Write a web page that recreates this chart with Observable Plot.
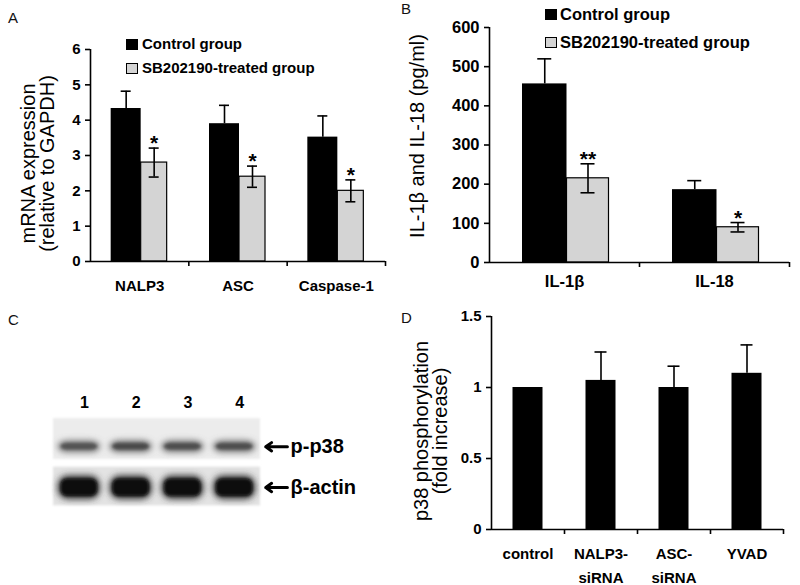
<!DOCTYPE html>
<html>
<head>
<meta charset="utf-8">
<script src="https://cdn.jsdelivr.net/npm/d3@7"></script>
<script src="https://cdn.jsdelivr.net/npm/@observablehq/plot@0.6"></script>
<style>
  body { margin: 0; background: #fff; font-family: "Liberation Sans", Arial, Helvetica, sans-serif; }
  #wrap { position: relative; width: 800px; height: 585px; overflow: hidden; background: #fff; }
  .panel { position: absolute; }
  .panel svg { overflow: visible; display: block; }
  .plab { position: absolute; font-size: 15px; line-height: 15px; color: #111; }
  .legtxt { position: absolute; font-weight: bold; white-space: nowrap; color: #000; }
  .sw { position: absolute; box-sizing: border-box; }
</style>
</head>
<body>
<div id="wrap">
  <div class="plab" style="left:8px;top:10px">A</div>
  <div class="plab" style="left:401px;top:1px">B</div>
  <div class="plab" style="left:8px;top:312px">C</div>
  <div class="plab" style="left:401px;top:310px">D</div>
  <div class="panel" id="pA" style="left:0;top:0"></div>
  <div class="panel" id="pB" style="left:400px;top:0"></div>
  <div class="panel" id="pC" style="left:0;top:300px"></div>
  <div class="panel" id="pD" style="left:400px;top:300px"></div>
  <div id="legends"></div>
</div>
<script>
// ---------- data ----------
const seriesNames = ["Control group", "SB202190-treated group"];

const catsA = ["NALP3", "ASC", "Caspase-1"];
const ctrlA = [4.33, 3.9, 3.52];
const ctrlSeA = [0.49, 0.52, 0.6];
const trtA = [2.8, 2.4, 2.0];
const trtSeA = [0.41, 0.3, 0.31];
const sigA = ["*", "*", "*"];
const ticksA = [0, 1, 2, 3, 4, 5, 6];
const titleA = "mRNA expression\n(relative to GAPDH)";

const catsB = ["IL-1β", "IL-18"];
const ctrlB = [456, 186];
const ctrlSeB = [64, 23];
const trtB = [215, 90];
const trtSeB = [37, 12];
const sigB = ["**", "*"];
const ticksB = [0, 100, 200, 300, 400, 500, 600];
const titleB = "IL-1β and IL-18 (pg/ml)";

const catsD = ["control", "NALP3-siRNA", "ASC-siRNA", "YVAD"];
const valD = [1.0, 1.05, 1.0, 1.1];
const seD = [0, 0.2, 0.15, 0.2];
const ticksD = [0, 0.5, 1, 1.5];
const titleD = "p38 phosphorylation\n(fold increase)";

const lanes = [1, 2, 3, 4];
const blotRows = ["p-p38", "β-actin"];
const pp38Density = [0.74, 0.77, 0.76, 0.76];
const actinDensity = [0.97, 0.97, 0.96, 0.97];

// ---------- helpers ----------
const FONT = '"Liberation Sans", Arial, Helvetica, sans-serif';
const baseStyle = { fontFamily: FONT, fontWeight: "bold", color: "#000", background: "transparent", overflow: "visible" };
const fmt = d => String(d);

function yTitle(title, dx, dy) {
  return Plot.text([title], { text: d => d, frameAnchor: "left", rotate: -90, dx, dy,
    textAnchor: "middle", lineAnchor: "middle", fontSize: 20, fontWeight: "normal", lineHeight: 0.93 });
}

function grouped(cfg) {
  const { cats, ctrl, ctrlSe, trt, trtSe, sig, yMax, yTicks, W, H, mL, mR, mT, mB,
          cL, split, tR, cap, tickFont, xPad, title, tDx, tDy } = cfg;
  const rows = cats.map((c, i) => ({
    cat: c, ctrl: ctrl[i], ctrlHi: ctrl[i] + ctrlSe[i],
    trt: trt[i], trtLo: trt[i] - trtSe[i], trtHi: trt[i] + trtSe[i], sig: sig[i]
  }));
  const innerW = W - mL - mR, innerH = H - mT - mB;
  const w = innerW / cats.length;
  const cc = (cL + split) / 2, tc = (split + tR) / 2;
  const tk = 5 * yMax / innerH;
  const lw = 1.6;
  return Plot.plot({
    width: W, height: H, marginLeft: mL, marginRight: mR, marginTop: mT, marginBottom: mB,
    style: { ...baseStyle, fontSize: tickFont + "px" },
    x: { domain: cats, padding: 0, round: false },
    y: { domain: [0, yMax] },
    marks: [
      Plot.barY(rows, { x: "cat", y: "ctrl", fill: "#000", insetLeft: w / 2 + cL, insetRight: w / 2 - split }),
      Plot.barY(rows, { x: "cat", y: "trt", fill: "#d4d4d4", stroke: "#000", strokeWidth: 1.2,
                        insetLeft: w / 2 + split, insetRight: w / 2 - tR }),
      Plot.ruleX(rows, { x: "cat", y1: "ctrl", y2: "ctrlHi", dx: cc, stroke: "#000", strokeWidth: lw }),
      Plot.tickY(rows, { x: "cat", y: "ctrlHi", dx: cc, insetLeft: w / 2 - cap / 2, insetRight: w / 2 - cap / 2, stroke: "#000", strokeWidth: lw }),
      Plot.ruleX(rows, { x: "cat", y1: "trtLo", y2: "trtHi", dx: tc, stroke: "#000", strokeWidth: lw }),
      Plot.tickY(rows, { x: "cat", y: "trtHi", dx: tc, insetLeft: w / 2 - cap / 2, insetRight: w / 2 - cap / 2, stroke: "#000", strokeWidth: lw }),
      Plot.tickY(rows, { x: "cat", y: "trtLo", dx: tc, insetLeft: w / 2 - cap / 2, insetRight: w / 2 - cap / 2, stroke: "#000", strokeWidth: lw }),
      Plot.text(rows, { x: "cat", y: "trtHi", dx: tc, dy: 2, text: "sig", fontSize: 21, lineAnchor: "bottom", fontWeight: "bold" }),
      Plot.ruleY([0], { stroke: "#000", strokeWidth: lw }),
      Plot.ruleX([cats[0]], { dx: -w / 2, y1: 0, y2: yMax, stroke: "#000", strokeWidth: lw }),
      Plot.ruleX(cats, { dx: w / 2, y1: 0, y2: -tk, stroke: "#000", strokeWidth: lw }),
      Plot.axisY({ ticks: yTicks, tickFormat: fmt, tickSize: 5, tickPadding: 5, label: null, strokeWidth: lw, fontSize: tickFont }),
      Plot.axisX({ tickSize: 0, tickPadding: xPad, label: null, fontSize: tickFont }),
      yTitle(title, tDx, tDy)
    ]
  });
}

// ---------- Panel A ----------
document.getElementById("pA").append(grouped({
  cats: catsA, ctrl: ctrlA, ctrlSe: ctrlSeA, trt: trtA, trtSe: trtSeA, sig: sigA,
  yMax: 6, yTicks: ticksA, W: 400, H: 300, mL: 90, mR: 15, mT: 49, mB: 39,
  cL: -28.5, split: 1.5, tR: 27.5, cap: 10, tickFont: 15, xPad: 19,
  title: titleA, tDx: -52, tDy: 8
}));

// ---------- Panel B ----------
document.getElementById("pB").append(grouped({
  cats: catsB, ctrl: ctrlB, ctrlSe: ctrlSeB, trt: trtB, trtSe: trtSeB, sig: sigB,
  yMax: 600, yTicks: ticksB, W: 400, H: 300, mL: 89, mR: 11, mT: 27, mB: 38,
  cL: -42, split: 2.5, tR: 44.5, cap: 14, tickFont: 16.5, xPad: 13,
  title: titleB, tDx: -71, tDy: -9
}));

// ---------- Panel D ----------
(function () {
  const rows = catsD.map((c, i) => ({ cat: c, v: valD[i], hi: valD[i] + seD[i], se: seD[i] }));
  const W = 400, H = 285, mL = 91, mR = 17, mT = 16, mB = 56;
  const w = (W - mL - mR) / catsD.length;
  const bw = 30, cap = 12, lw = 1.6;
  const tk = 5 * 1.5 / (H - mT - mB);
  const withErr = rows.filter(d => d.se > 0);
  const svg = Plot.plot({
    width: W, height: H, marginLeft: mL, marginRight: mR, marginTop: mT, marginBottom: mB,
    style: { ...baseStyle, fontSize: "15px" },
    x: { domain: catsD, padding: 0, round: false },
    y: { domain: [0, 1.5] },
    marks: [
      Plot.barY(rows, { x: "cat", y: "v", fill: "#000", insetLeft: (w - bw) / 2, insetRight: (w - bw) / 2 }),
      Plot.ruleX(withErr, { x: "cat", y1: "v", y2: "hi", stroke: "#000", strokeWidth: lw }),
      Plot.tickY(withErr, { x: "cat", y: "hi", insetLeft: (w - cap) / 2, insetRight: (w - cap) / 2, stroke: "#000", strokeWidth: lw }),
      Plot.ruleY([0], { stroke: "#000", strokeWidth: lw }),
      Plot.ruleX([catsD[0]], { dx: -w / 2, y1: 0, y2: 1.5, stroke: "#000", strokeWidth: lw }),
      Plot.ruleX(catsD, { dx: w / 2, y1: 0, y2: -tk, stroke: "#000", strokeWidth: lw }),
      Plot.axisY({ ticks: ticksD, tickFormat: fmt, tickSize: 5, tickPadding: 5, label: null, strokeWidth: lw, fontSize: 15 }),
      Plot.axisX({ tickSize: 0, tickPadding: 12, label: null, fontSize: 15, lineHeight: 1.6,
                   tickFormat: d => d.replace("-s", "-\ns") }),
      yTitle(titleD, -60, 8)
    ]
  });
  document.getElementById("pD").append(svg);
})();

// ---------- Panel C (western blot) ----------
(function () {
  const bands = [];
  lanes.forEach((l, i) => {
    bands.push({ lane: l, row: 1, d: pp38Density[i] });
    bands.push({ lane: l, row: 2, d: actinDensity[i] });
  });
  const rowsInfo = blotRows.map((r, i) => ({ name: r, row: i + 1 }));
  const hw = 0.41;
  const svg = Plot.plot({
    width: 400, height: 285, marginLeft: 53, marginRight: 140, marginTop: 90, marginBottom: 73.75,
    style: { ...baseStyle, fontSize: "16px" },
    x: { domain: [0.5, 4.5], axis: null },
    y: { domain: [0, 2.5], reverse: true, axis: null },
    marks: [
      // membrane background strips
      Plot.rect(rowsInfo, { x1: () => 0.5, x2: () => 4.5,
        y1: d => d.row - 0.42, y2: d => d.row + (d.row === 1 ? 0.42 : 0.38),
        fill: d => d.row === 1 ? "#ececec" : "#e3e3e3" }),
      // band halo (wide, light)
      Plot.rect(bands, { x1: d => d.lane - hw, x2: d => d.lane + hw,
        y1: d => d.row === 1 ? d.row + 0.04 : d.row - 0.24,
        y2: d => d.row === 1 ? d.row + 0.28 : d.row + 0.25,
        rx: 10, fill: d => d3.interpolateGreys(d.d * 0.85) }),
      // band core (dense)
      Plot.rect(bands, { x1: d => d.lane - hw + 0.06, x2: d => d.lane + hw - 0.06,
        y1: d => d.row === 1 ? d.row + 0.1 : d.row - 0.17,
        y2: d => d.row === 1 ? d.row + 0.22 : d.row + 0.18,
        rx: 6, fill: d => d3.interpolateGreys(d.d) }),
      // lane numbers
      Plot.text(lanes, { x: d => d, y: () => 0.37, dx: 5, text: d => String(d), lineAnchor: "bottom", fontSize: 16 }),
      // arrows and labels
      Plot.arrow(rowsInfo, { x1: () => 5.02, x2: () => 4.6,
        y1: d => d.row === 1 ? 1.16 : 2.0, y2: d => d.row === 1 ? 1.16 : 2.0,
        stroke: "#000", strokeWidth: 3, headLength: 9, headAngle: 70 }),
      Plot.text(rowsInfo, { x: () => 5.08, y: d => d.row === 1 ? 1.16 : 2.0, text: "name",
        textAnchor: "start", fontSize: 20, fontWeight: "bold" })
    ]
  });
  const s = d3.select(svg);
  const defs = s.insert("defs", ":first-child");
  const mk = (id, sd) => defs.append("filter").attr("id", id)
    .attr("x", "-30%").attr("y", "-100%").attr("width", "160%").attr("height", "300%")
    .append("feGaussianBlur").attr("stdDeviation", sd);
  mk("blurMem", 1.0); mk("blurHalo", 3.2); mk("blurCore", 1.8);
  const groups = s.selectAll('g[aria-label="rect"]').nodes();
  if (groups[0]) groups[0].setAttribute("filter", "url(#blurMem)");
  if (groups[1]) groups[1].setAttribute("filter", "url(#blurHalo)");
  if (groups[2]) groups[2].setAttribute("filter", "url(#blurCore)");
  document.getElementById("pC").append(svg);
})();

// ---------- legends (HTML, overlaid) ----------
(function () {
  const L = document.getElementById("legends");
  const specs = [
    { sx: 126, sy: 39, tx: 142, ty: 36, fs: 15 },
    { sx: 126, sy: 63, tx: 142, ty: 60, fs: 15 },
    { sx: 545, sy: 9, tx: 560, ty: 6, fs: 16.5 },
    { sx: 545, sy: 37, tx: 560, ty: 34, fs: 16.5 }
  ];
  specs.forEach((p, k) => {
    const isCtrl = k % 2 === 0;
    const sw = document.createElement("div");
    sw.className = "sw";
    Object.assign(sw.style, { left: p.sx + "px", top: p.sy + "px", width: "12px", height: "11px",
      background: isCtrl ? "#000" : "#d4d4d4", border: "1.3px solid #000" });
    L.append(sw);
    const t = document.createElement("div");
    t.className = "legtxt";
    t.textContent = seriesNames[isCtrl ? 0 : 1];
    Object.assign(t.style, { left: p.tx + "px", top: p.ty + "px", fontSize: p.fs + "px", lineHeight: p.fs + "px" });
    L.append(t);
  });
})();
</script>
</body>
</html>
